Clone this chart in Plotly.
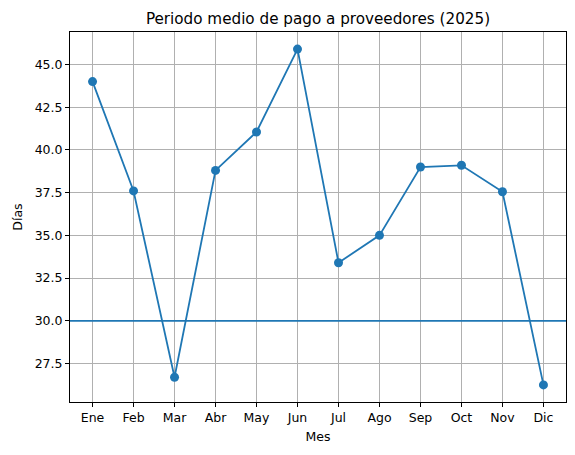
import plotly.graph_objects as go

meses = ["Ene", "Feb", "Mar", "Abr", "May", "Jun", "Jul", "Ago", "Sep", "Oct", "Nov", "Dic"]
dias = [44.0, 37.6, 26.7, 38.8, 41.05, 45.9, 33.4, 35.0, 39.0, 39.1, 37.55, 26.25]
objetivo = 30.0
y_ticks = [27.5, 30.0, 32.5, 35.0, 37.5, 40.0, 42.5, 45.0]

azul = "#1f77b4"
fuente = "DejaVu Sans"

fig = go.Figure()

fig.add_trace(go.Scatter(
    x=list(range(len(meses))), y=dias,
    mode="lines+markers",
    line=dict(color=azul, width=1.8),
    marker=dict(color=azul, size=9),
    showlegend=False
))

fig.add_hline(y=objetivo, line=dict(color=azul, width=1.8))

eje = dict(
    showline=True, linecolor="black", linewidth=1, mirror=True,
    ticks="outside", ticklen=4, tickcolor="black",
    showgrid=True, gridcolor="#b0b0b0", gridwidth=0.8,
    zeroline=False,
    tickfont=dict(family=fuente, size=12.5, color="black"),
)

fig.update_xaxes(
    **eje,
    tickmode="array", tickvals=list(range(len(meses))), ticktext=meses,
    range=[-0.55, 11.55],
    title=dict(text="Mes", font=dict(family=fuente, size=12.5, color="black"), standoff=8),
)
fig.update_yaxes(
    **eje,
    tickmode="array", tickvals=y_ticks, ticktext=[f"{v:.1f}" for v in y_ticks],
    range=[25.25, 46.9],
    title=dict(text="Días", font=dict(family=fuente, size=12.5, color="black"), standoff=9),
)

fig.update_layout(
    width=575, height=455,
    margin=dict(l=70, r=9, t=32, b=53),
    paper_bgcolor="white", plot_bgcolor="white",
    title=dict(text="Periodo medio de pago a proveedores (2025)",
               x=0.5, xref="paper", xanchor="center", y=0.96, yanchor="middle",
               font=dict(family=fuente, size=15.2, color="black")),
)

# quitar el margen por defecto del body para que el grafico quede en 0,0
fig.write_html("out.html", config={"displayModeBar": False},
               post_script="document.body.style.margin='0px';")
